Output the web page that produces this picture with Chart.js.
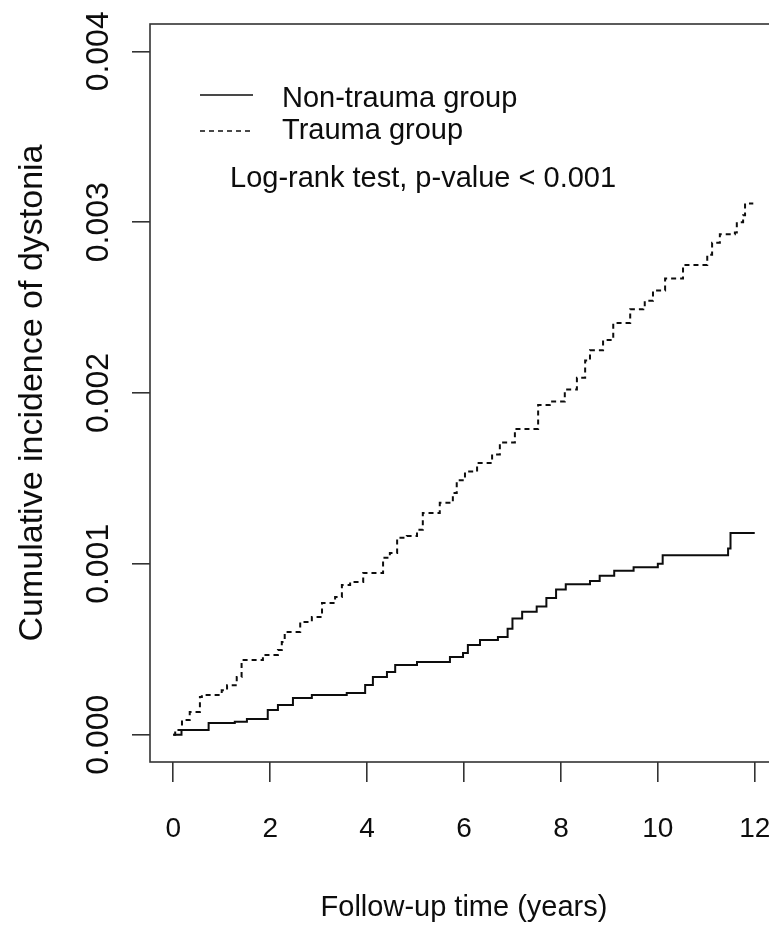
<!DOCTYPE html>
<html>
<head>
<meta charset="utf-8">
<title>Cumulative incidence of dystonia</title>
<script src="https://cdn.jsdelivr.net/npm/chart.js@4.4.1/dist/chart.umd.min.js"></script>
<style>
  html, body { margin: 0; padding: 0; background: #fff; overflow: hidden; }
  #wrap { width: 790px; height: 926px; }
</style>
</head>
<body>
<div id="wrap"><canvas id="km" width="790" height="926" style="width:790px;height:926px"></canvas></div>
<script>
// follow-up time (years) / cumulative incidence
const nonTraumaTime = [0, 0.17, 0.73, 1.27, 1.52, 1.95, 2.16, 2.47, 2.86, 3.58, 3.96, 4.12, 4.41, 4.58, 5.03, 5.71, 5.98, 6.08, 6.33, 6.7, 6.9, 7.0, 7.2, 7.5, 7.7, 7.9, 8.1, 8.6, 8.8, 9.1, 9.5, 10.0, 10.1, 11.45, 11.5, 12.0];
const nonTraumaInc = [0, 0.000028, 0.000068, 0.000076, 0.000092, 0.000145, 0.000174, 0.000215, 0.000232, 0.000244, 0.000291, 0.000338, 0.000367, 0.000408, 0.000426, 0.000455, 0.000478, 0.000525, 0.000554, 0.000572, 0.00062, 0.00068, 0.00072, 0.00075, 0.0008, 0.00085, 0.00088, 0.0009, 0.00093, 0.00096, 0.00098, 0.001, 0.00105, 0.00109, 0.00118, 0.00118];

const traumaTime = [0, 0.04, 0.18, 0.34, 0.55, 0.59, 1.0, 1.11, 1.31, 1.41, 1.43, 1.79, 1.85, 2.16, 2.24, 2.3, 2.62, 2.86, 3.07, 3.34, 3.48, 3.65, 3.92, 4.33, 4.47, 4.62, 4.82, 5.03, 5.15, 5.5, 5.77, 5.85, 6.02, 6.27, 6.58, 6.74, 7.05, 7.32, 7.53, 7.77, 8.08, 8.33, 8.5, 8.6, 8.87, 9.08, 9.43, 9.7, 9.73, 9.9, 10.15, 10.52, 11.02, 11.12, 11.28, 11.59, 11.63, 11.76, 11.8, 11.97];
const traumaInc = [0, 0.000028, 0.000086, 0.000133, 0.00022, 0.000232, 0.00026, 0.00029, 0.000338, 0.00042, 0.000437, 0.000437, 0.000467, 0.000496, 0.000543, 0.000601, 0.00066, 0.000689, 0.000771, 0.000806, 0.000876, 0.000894, 0.000947, 0.001035, 0.001064, 0.001152, 0.001163, 0.001199, 0.001298, 0.001357, 0.001415, 0.00149, 0.00154, 0.00159, 0.00164, 0.00171, 0.00179, 0.00179, 0.00193, 0.00195, 0.00202, 0.00209, 0.00219, 0.00225, 0.00231, 0.00241, 0.00249, 0.0025, 0.00254, 0.0026, 0.00267, 0.00275, 0.00281, 0.00288, 0.00293, 0.00294, 0.003, 0.00304, 0.00311, 0.00311];

const xTicks = [0, 2, 4, 6, 8, 10, 12];
const yTicks = [0, 0.001, 0.002, 0.003, 0.004];
const yTickLabels = ["0.000", "0.001", "0.002", "0.003", "0.004"];

const seriesNames = ["Non-trauma group", "Trauma group"];
const testNote = "Log-rank test, p-value < 0.001";
const xTitle = "Follow-up time (years)";
const yTitle = "Cumulative incidence of dystonia";

const FONT = "'Liberation Sans', Arial, sans-serif";
const INK = "#0d0d0d";

function points(xs, ys) {
  return xs.map((x, i) => ({ x, y: ys[i] }));
}

// R-style box, rotated y labels, y title and in-plot legend
const rDecor = {
  id: "rDecor",
  afterDraw(chart) {
    const { ctx, chartArea: a, scales } = chart;
    ctx.save();
    ctx.strokeStyle = "#333";
    ctx.lineWidth = 1.6;
    ctx.strokeRect(a.left, a.top, a.right - a.left, a.bottom - a.top);

    ctx.fillStyle = INK;
    ctx.textAlign = "center";
    ctx.textBaseline = "alphabetic";

    ctx.font = "32px " + FONT;
    scales.y.ticks.forEach((t, i) => {
      const py = scales.y.getPixelForValue(t.value);
      ctx.save();
      ctx.translate(108, py);
      ctx.rotate(-Math.PI / 2);
      ctx.fillText(yTickLabels[i], 0, 0);
      ctx.restore();
    });

    ctx.font = "34px " + FONT;
    ctx.save();
    ctx.translate(42, (a.top + a.bottom) / 2);
    ctx.rotate(-Math.PI / 2);
    ctx.fillText(yTitle, 0, 0);
    ctx.restore();

    ctx.font = "29px " + FONT;
    ctx.fillText(xTitle, (a.left + a.right) / 2, 916);

    // legend
    ctx.textAlign = "left";
    const rows = [{ line: 95, base: 107 }, { line: 131, base: 139 }];
    chart.data.datasets.forEach((ds, i) => {
      ctx.save();
      ctx.strokeStyle = ds.borderColor;
      ctx.lineWidth = 1.6;
      ctx.setLineDash(ds.borderDash || []);
      ctx.beginPath();
      ctx.moveTo(200, rows[i].line);
      ctx.lineTo(253, rows[i].line);
      ctx.stroke();
      ctx.restore();
      ctx.fillText(ds.label, 282, rows[i].base);
    });
    ctx.fillText(testNote, 230, 187);
    ctx.restore();
  },
};

new Chart(document.getElementById("km"), {
  type: "line",
  data: {
    datasets: [
      {
        label: seriesNames[0],
        data: points(nonTraumaTime, nonTraumaInc),
        borderColor: INK,
        borderWidth: 2,
        stepped: true,
        pointRadius: 0,
        fill: false,
      },
      {
        label: seriesNames[1],
        data: points(traumaTime, traumaInc),
        borderColor: INK,
        borderWidth: 2,
        borderDash: [5, 4],
        stepped: true,
        pointRadius: 0,
        fill: false,
      },
    ],
  },
  options: {
    responsive: false,
    animation: false,
    devicePixelRatio: 1,
    layout: { padding: { top: 24, right: 12, left: 0, bottom: 0 } },
    plugins: { legend: { display: false }, tooltip: { enabled: false } },
    scales: {
      x: {
        type: "linear",
        position: "bottom",
        min: -0.48,
        max: 12.48,
        afterBuildTicks: (s) => { s.ticks = xTicks.map((v) => ({ value: v })); },
        afterFit: (s) => { s.height = 164; s.paddingLeft = 0; s.paddingRight = 0; },
        border: { display: false },
        grid: { drawOnChartArea: false, drawTicks: true, tickLength: 20, color: "#333", lineWidth: 1.6 },
        ticks: { color: INK, font: { family: FONT, size: 28 }, padding: 30, maxRotation: 0, autoSkip: false },
      },
      y: {
        type: "linear",
        position: "left",
        min: -0.00016,
        max: 0.00416,
        afterBuildTicks: (s) => { s.ticks = yTicks.map((v) => ({ value: v })); },
        afterFit: (s) => { s.width = 150; s.paddingTop = 0; s.paddingBottom = 0; },
        border: { display: false },
        grid: { drawOnChartArea: false, drawTicks: true, tickLength: 18, color: "#333", lineWidth: 1.6 },
        ticks: { display: false },
      },
    },
  },
  plugins: [rDecor],
});
</script>
</body>
</html>
